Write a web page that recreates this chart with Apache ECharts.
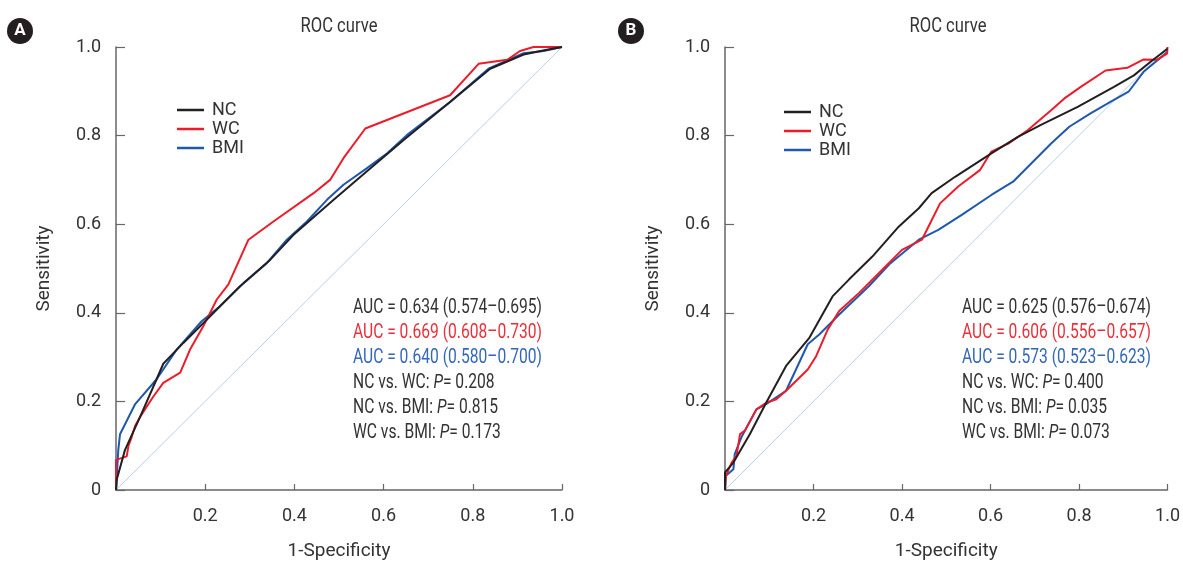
<!DOCTYPE html>
<html>
<head>
<meta charset="utf-8">
<script src="https://cdn.jsdelivr.net/npm/echarts@6/dist/echarts.min.js"></script>
<style>
  html, body { margin: 0; padding: 0; background: #fff; }
  #chart { width: 1183px; height: 566px; }
</style>
</head>
<body>
<div id="chart"></div>
<script>
// 数据：[1-特异度, 灵敏度]
const names = ["NC", "WC", "BMI"];
const yTicks = [0, 0.2, 0.4, 0.6, 0.8, 1.0];
const xTicks = [0.2, 0.4, 0.6, 0.8, 1.0];

const ncA = [[0,0],[0.002,0.025],[0.02,0.09],[0.054,0.165],[0.091,0.25],[0.106,0.285],[0.151,0.332],[0.196,0.377],[0.278,0.46],[0.346,0.52],[0.398,0.576],[0.488,0.655],[0.562,0.719],[0.645,0.79],[0.749,0.876],[0.839,0.951],[0.914,0.983],[0.966,0.994],[1,1]];
const wcA = [[0,0],[0,0.068],[0.024,0.076],[0.028,0.1],[0.035,0.119],[0.043,0.145],[0.054,0.165],[0.083,0.21],[0.106,0.242],[0.144,0.265],[0.166,0.317],[0.196,0.37],[0.226,0.43],[0.252,0.464],[0.297,0.565],[0.353,0.606],[0.443,0.67],[0.48,0.7],[0.51,0.749],[0.559,0.816],[0.749,0.891],[0.813,0.962],[0.877,0.971],[0.906,0.991],[0.936,1.0],[0.989,1.0],[1,1]];
const bmiA = [[0,0],[0.005,0.089],[0.009,0.126],[0.043,0.194],[0.091,0.25],[0.136,0.317],[0.192,0.381],[0.233,0.415],[0.286,0.467],[0.338,0.512],[0.383,0.565],[0.428,0.606],[0.473,0.655],[0.51,0.689],[0.562,0.726],[0.608,0.76],[0.652,0.801],[0.749,0.876],[0.835,0.951],[0.914,0.986],[0.959,0.991],[1,1]];

const ncB = [[0,0],[0,0.04],[0.019,0.062],[0.056,0.126],[0.093,0.197],[0.138,0.28],[0.191,0.344],[0.243,0.437],[0.28,0.475],[0.333,0.527],[0.393,0.595],[0.438,0.636],[0.467,0.67],[0.52,0.707],[0.602,0.76],[0.662,0.797],[0.714,0.824],[0.797,0.865],[0.879,0.91],[0.924,0.936],[0.961,0.966],[1,0.996]];
const wcB = [[0,0],[0.002,0.032],[0.015,0.062],[0.026,0.077],[0.034,0.126],[0.045,0.134],[0.071,0.182],[0.093,0.197],[0.116,0.205],[0.138,0.224],[0.187,0.272],[0.206,0.302],[0.232,0.362],[0.258,0.404],[0.303,0.445],[0.348,0.49],[0.4,0.542],[0.445,0.565],[0.486,0.647],[0.527,0.685],[0.576,0.722],[0.602,0.764],[0.64,0.782],[0.684,0.812],[0.737,0.857],[0.767,0.884],[0.804,0.91],[0.86,0.947],[0.909,0.953],[0.946,0.972],[0.976,0.971],[0.999,0.985],[1,1]];
const bmiB = [[0,0],[0.002,0.032],[0.019,0.047],[0.022,0.081],[0.037,0.119],[0.071,0.182],[0.093,0.194],[0.138,0.224],[0.187,0.329],[0.213,0.351],[0.258,0.396],[0.325,0.46],[0.374,0.512],[0.438,0.565],[0.482,0.587],[0.535,0.621],[0.602,0.666],[0.651,0.696],[0.692,0.737],[0.737,0.782],[0.778,0.82],[0.826,0.85],[0.871,0.876],[0.912,0.899],[0.946,0.944],[1,0.989]];

const diagonal = [[0,0],[1,1]];

const statsA = ["0.634 (0.574–0.695)", "0.669 (0.608–0.730)", "0.640 (0.580–0.700)", "0.208", "0.815", "0.173"];
const statsB = ["0.625 (0.576–0.674)", "0.606 (0.556–0.657)", "0.573 (0.523–0.623)", "0.400", "0.035", "0.073"];

const FONT = "Roboto, 'Liberation Sans', sans-serif";
const colors = { NC: "#231f20", WC: "#ec1c2a", BMI: "#1f58ad" };
const textColors = ["#333", "#e8303a", "#3467b8", "#333", "#333", "#333"];
const axisColor = "#666";

const chart = echarts.init(document.getElementById("chart"));

function xAxisOf(gi) {
  return {
    gridIndex: gi, type: "value", min: 0, max: 1, interval: 0.2,
    name: "1-Specificity", nameLocation: "middle", nameGap: 52,
    nameTextStyle: { fontFamily: FONT, fontSize: 19, color: "#333" },
    axisLine: { lineStyle: { color: axisColor, width: 1.5 } },
    axisTick: { inside: true, length: 6, lineStyle: { color: axisColor, width: 1.2 } },
    axisLabel: {
      margin: 17, fontFamily: FONT, fontSize: 18, color: "#333",
      formatter: v => (xTicks.some(t => Math.abs(t - v) < 1e-6) ? v.toFixed(1) : "")
    },
    splitLine: { show: false }
  };
}

function yAxisOf(gi) {
  return {
    gridIndex: gi, type: "value", min: 0, max: 1, interval: 0.2,
    name: "Sensitivity", nameLocation: "middle", nameGap: 62,
    nameTextStyle: { fontFamily: FONT, fontSize: 19, color: "#333" },
    axisLine: { lineStyle: { color: axisColor, width: 1.5 } },
    axisTick: { inside: true, length: 9, lineStyle: { color: axisColor, width: 1.2 } },
    axisLabel: {
      margin: 15, fontFamily: FONT, fontSize: 18, color: "#333",
      formatter: v => (v === 0 ? "0" : v.toFixed(1))
    },
    splitLine: { show: false }
  };
}

function lineSeries(name, data, gi) {
  return {
    name: name, type: "line", data: data, xAxisIndex: gi, yAxisIndex: gi,
    showSymbol: false, symbol: "none", smooth: false, silent: true,
    lineStyle: { color: colors[name], width: 2 }, itemStyle: { color: colors[name] },
    z: 3
  };
}

function diagSeries(gi) {
  return {
    type: "line", data: diagonal, xAxisIndex: gi, yAxisIndex: gi,
    showSymbol: false, symbol: "none", silent: true,
    lineStyle: { color: "#b9cfe4", width: 1 }, z: 2
  };
}

function legendOf(left, top) {
  return {
    data: names, orient: "vertical", left: left, top: top,
    icon: "rect", itemWidth: 27, itemHeight: 2.5, itemGap: 1,
    selectedMode: false,
    textStyle: { fontFamily: FONT, fontSize: 18, color: "#333", lineHeight: 17, padding: [0, 0, 0, 3] }
  };
}

// 统计文字：压窄以接近原图的窄体字
function statTexts(x, stats) {
  const labels = ["AUC = ", "AUC = ", "AUC = ", "NC vs. WC: ", "NC vs. BMI: ", "WC vs. BMI: "];
  return stats.map((s, i) => ({
    type: "text", x: x, y: 308 + i * 25, scaleX: 0.78,
    style: {
      text: i < 3 ? labels[i] + s : labels[i] + "{i|P}= " + s,
      fill: textColors[i], font: "20px " + FONT, verticalAlign: "middle",
      rich: { i: { fontStyle: "italic", fontFamily: FONT, fontSize: 20, fill: textColors[i] } }
    }
  }));
}

function badge(cx, cy, letter) {
  return [
    { type: "circle", shape: { cx: cx, cy: cy, r: 13 }, style: { fill: "#231f20" } },
    { type: "text", x: cx, y: cy, style: { text: letter, fill: "#fff", font: "bold 17px Roboto, sans-serif", align: "center", verticalAlign: "middle" } }
  ];
}

function titleText(cx) {
  return { type: "text", x: cx, y: 27, scaleX: 0.83, style: { text: "ROC curve", fill: "#333", font: "20px " + FONT, align: "center", verticalAlign: "middle" } };
}

const option = {
  animation: false,
  backgroundColor: "#fff",
  grid: [
    { left: 116, top: 47, width: 446, height: 444 },
    { left: 725, top: 47, width: 446, height: 444 }
  ],
  xAxis: [xAxisOf(0), xAxisOf(1)],
  yAxis: [yAxisOf(0), yAxisOf(1)],
  legend: [legendOf(172, 96), legendOf(779, 98)],
  series: [
    diagSeries(0), diagSeries(1),
    lineSeries("BMI", bmiA, 0), lineSeries("WC", wcA, 0), lineSeries("NC", ncA, 0),
    lineSeries("BMI", bmiB, 1), lineSeries("WC", wcB, 1), lineSeries("NC", ncB, 1)
  ],
  graphic: [
    titleText(339),
    titleText(948),
    ...badge(20, 31, "A"),
    ...badge(631, 31, "B"),
    ...statTexts(353, statsA),
    ...statTexts(962, statsB)
  ]
};

chart.setOption(option);
</script>
</body>
</html>
